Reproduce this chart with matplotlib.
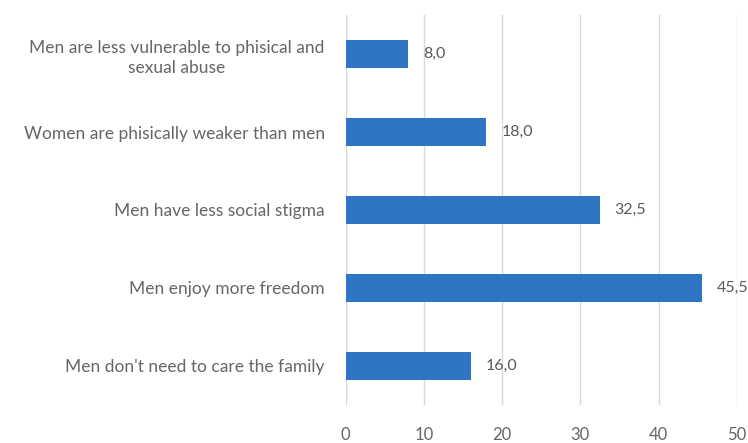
import matplotlib
matplotlib.use("Agg")
import matplotlib.pyplot as plt

categories = [
    "Men are less vulnerable to phisical and\nsexual abuse",
    "Women are phisically weaker than men",
    "Men have less social stigma",
    "Men enjoy more freedom",
    "Men don't need to care the family",
]
values = [8.0, 18.0, 32.5, 45.5, 16.0]
xticks = [0, 10, 20, 30, 40, 50]

plt.rcParams['font.family'] = ['Lato', 'DejaVu Sans']
fig = plt.figure(figsize=(7.48, 4.43), dpi=100)
ax = fig.add_axes([0.462, 0.086, 0.523, 0.880])

pos = list(range(len(categories)))[::-1]
ax.barh(pos, values, height=0.36, color='#2F75C5', zorder=3)
for p, v in zip(pos, values):
    ax.text(v + 1.9, p, f"{v:.1f}".replace('.', ','), va='center', ha='left',
            fontsize=11.5, color='#595959')

ax.set_xlim(0, 50)
ax.set_ylim(-0.5, 4.5)
ax.set_xticks(xticks)
ax.set_xticklabels([str(t) for t in xticks])
ax.set_yticks(pos)
ax.set_yticklabels(categories, multialignment='center', linespacing=1.35)
ax.grid(axis='x', color='#D9D9D9', linewidth=1, zorder=0)
for s in ax.spines.values():
    s.set_visible(False)
ax.tick_params(axis='y', length=0, labelsize=12.5, colors='#666666', pad=15)
ax.tick_params(axis='x', length=0, labelsize=12, colors='#666666', pad=16)
ax.axvline(0, color='#D9D9D9', linewidth=1, zorder=1)

fig.savefig("out.png", dpi=100, facecolor='white')
